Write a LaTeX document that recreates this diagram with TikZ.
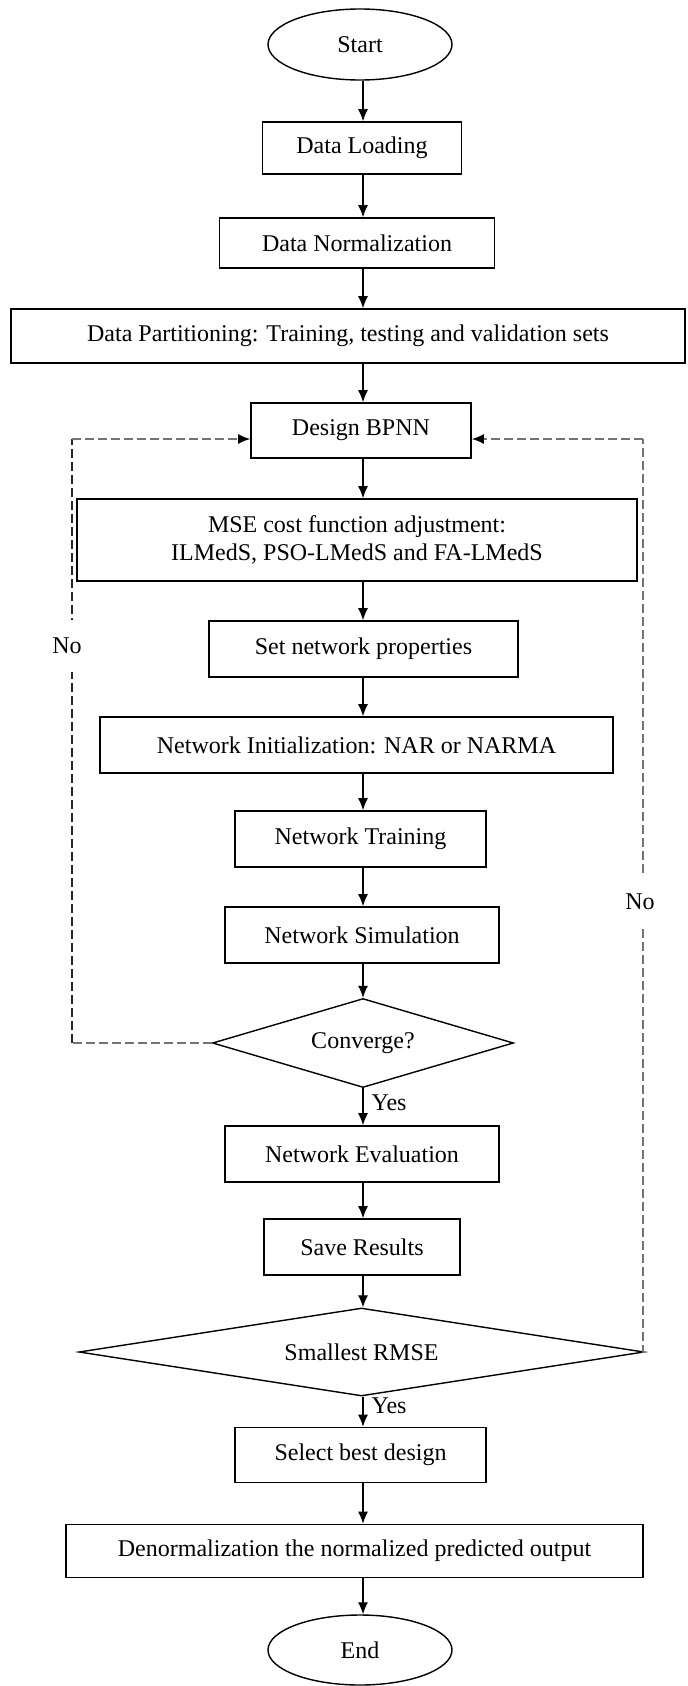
\documentclass[tikz,border=0pt]{standalone}
\usepackage{fontspec}
\setmainfont{Liberation Serif}
\usetikzlibrary{shapes.geometric,arrows.meta,calc}
\begin{document}
\begin{tikzpicture}[x=0.5pt,y=-0.5pt,
  font=\fontsize{12}{14}\selectfont,
  box/.style={draw=black,line width=0.8pt,rectangle,inner sep=0pt,align=center},
  term/.style={draw=black,line width=0.7pt,ellipse,inner sep=0pt,minimum width=92pt,minimum height=35.5pt},
  decide/.style={draw=black,line width=0.7pt,diamond,inner sep=0pt,aspect=3.4},
  arr/.style={draw=black,line width=0.6pt,-{Latex[length=6pt,width=5pt]}},
  back/.style={draw=black!55,line width=0.8pt,dash pattern=on 4.5pt off 2pt},
  backdark/.style={back,draw=black!85},
  backarr/.style={back,-{Latex[length=6pt,width=5pt,fill=black,color=black]}},
  lbl/.style={inner sep=0pt}
]
\useasboundingbox (0,0) rectangle (687,1686);

\node[term] (start) at (360,44.5) {Start};
\node[box,minimum width=99.5pt,minimum height=26pt] (load) at (362,148) {Data Loading};
\node[box,minimum width=137.5pt,minimum height=25pt] (norm) at (357,243) {Data Normalization};
\node[box,minimum width=337pt,minimum height=27pt] (part) at (348,336) {Data Partitioning: Training, testing and validation sets};
\node[box,minimum width=110pt,minimum height=27.5pt] (design) at (361,430.5) {Design BPNN};
\node[box,minimum width=280pt,minimum height=41pt] (mse) at (357,540) {MSE cost function adjustment:\\ILMedS, PSO-LMedS and FA-LMedS};
\node[box,minimum width=154.5pt,minimum height=28pt] (props) at (363.5,649) {Set network properties};
\node[box,minimum width=256.5pt,minimum height=28pt] (init) at (356.5,745) {Network Initialization: NAR or NARMA};
\node[box,minimum width=125.5pt,minimum height=28pt] (train) at (360.5,839) {Network Training};
\node[box,minimum width=137pt,minimum height=28pt] (sim) at (362,935) {Network Simulation};
\node[decide,minimum width=150.5pt,minimum height=44.5pt] (conv) at (363,1043) {Converge?};
\node[box,minimum width=137pt,minimum height=28pt] (eval) at (362,1154) {Network Evaluation};
\node[box,minimum width=98pt,minimum height=28pt] (save) at (362,1247) {Save Results};
\node[decide,minimum width=282.5pt,minimum height=44pt,aspect=6.4] (rmse) at (361.5,1352) {Smallest RMSE};
\node[box,minimum width=125.5pt,minimum height=27.5pt] (select) at (360.5,1455) {Select best design};
\node[box,minimum width=288.5pt,minimum height=26.5pt] (denorm) at (354.5,1551) {Denormalization the normalized predicted output};
\node[term,minimum height=35pt] (endn) at (360,1650) {End};

% main flow (common spine at x = 363)
\coordinate (spine) at (363,0);
\draw[arr] (start.south -| spine) -- (load.north -| spine);
\draw[arr] (load.south -| spine) -- (norm.north -| spine);
\draw[arr] (norm.south -| spine) -- (part.north -| spine);
\draw[arr] (part.south -| spine) -- (design.north -| spine);
\draw[arr] (design.south -| spine) -- (mse.north -| spine);
\draw[arr] (mse.south -| spine) -- (props.north -| spine);
\draw[arr] (props.south -| spine) -- (init.north -| spine);
\draw[arr] (init.south -| spine) -- (train.north -| spine);
\draw[arr] (train.south -| spine) -- (sim.north -| spine);
\draw[arr] (sim.south -| spine) -- (conv.north);
\draw[arr] (conv.south) -- node[right,pos=0.38,lbl,xshift=4pt] (yes1) {Yes} (eval.north -| spine);
\draw[arr] (eval.south -| spine) -- (save.north -| spine);
\draw[arr] (save.south -| spine) -- (rmse.north -| spine);
\draw[arr] (rmse.south -| spine) -- node[right,pos=0.3,lbl,xshift=4pt] (yes2) {Yes} (select.north -| spine);
\draw[arr] (select.south -| spine) -- (denorm.north -| spine);
\draw[arr] (denorm.south -| spine) -- (endn.north -| spine);

% feedback loops
\coordinate (L) at (72,439);
\coordinate (R) at (643,439);
\draw[back] (conv.west) -- (conv.west -| L);
\draw[backdark] (conv.west -| L) -- (L);
\draw[backarr] (L) -- (L -| design.west);
\draw[back] (rmse.east) -- (rmse.east -| R) -- (R);
\draw[backarr] (R) -- (R -| design.east);

\node[fill=white,inner xsep=2pt,inner ysep=9pt] (no1) at (67,646) {No};
\node[fill=white,inner xsep=2pt,inner ysep=9pt] (no2) at (640,902) {No};
\end{tikzpicture}
\end{document}
